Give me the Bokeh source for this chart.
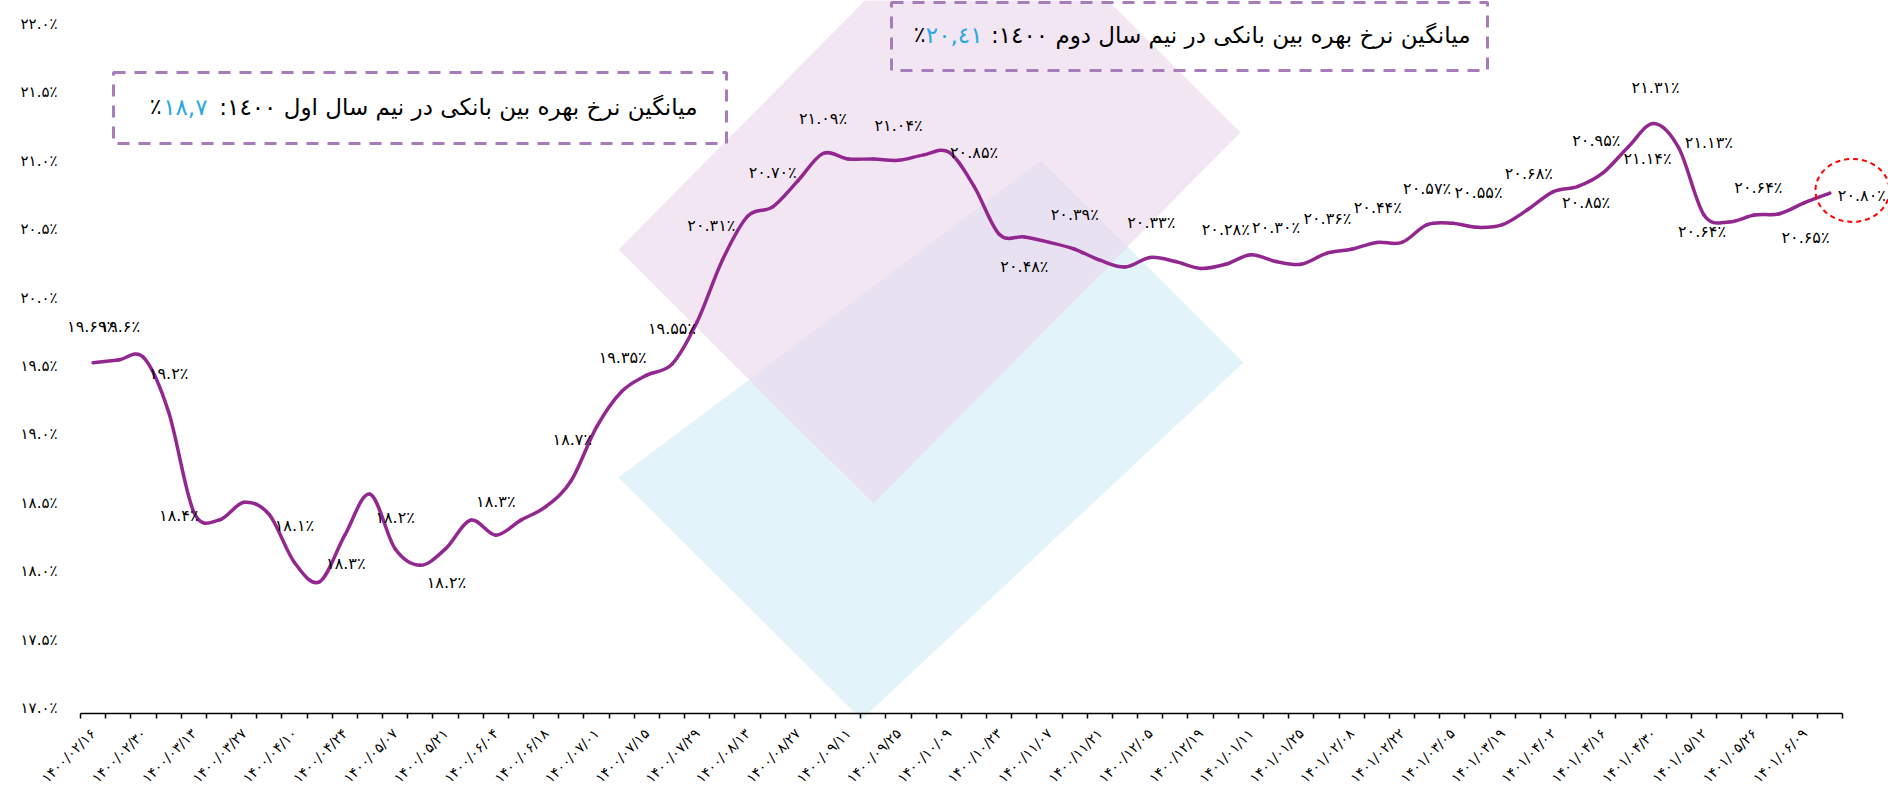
import math
from bokeh.plotting import figure
from bokeh.models import FixedTicker, Range1d
from bokeh.core.properties import value
from bokeh.embed import file_html
from bokeh.resources import INLINE

# ---------------- data ----------------
dates = [
    "۱۴۰۰/۰۲/۱۶", "۱۴۰۰/۰۲/۲۳", "۱۴۰۰/۰۲/۳۰", "۱۴۰۰/۰۳/۰۶", "۱۴۰۰/۰۳/۱۳",
    "۱۴۰۰/۰۳/۲۰", "۱۴۰۰/۰۳/۲۷", "۱۴۰۰/۰۴/۰۳", "۱۴۰۰/۰۴/۱۰", "۱۴۰۰/۰۴/۱۷",
    "۱۴۰۰/۰۴/۲۴", "۱۴۰۰/۰۴/۳۱", "۱۴۰۰/۰۵/۰۷", "۱۴۰۰/۰۵/۱۴", "۱۴۰۰/۰۵/۲۱",
    "۱۴۰۰/۰۵/۲۸", "۱۴۰۰/۰۶/۰۴", "۱۴۰۰/۰۶/۱۱", "۱۴۰۰/۰۶/۱۸", "۱۴۰۰/۰۶/۲۵",
    "۱۴۰۰/۰۷/۰۱", "۱۴۰۰/۰۷/۰۸", "۱۴۰۰/۰۷/۱۵", "۱۴۰۰/۰۷/۲۲", "۱۴۰۰/۰۷/۲۹",
    "۱۴۰۰/۰۸/۰۶", "۱۴۰۰/۰۸/۱۳", "۱۴۰۰/۰۸/۲۰", "۱۴۰۰/۰۸/۲۷", "۱۴۰۰/۰۹/۰۴",
    "۱۴۰۰/۰۹/۱۱", "۱۴۰۰/۰۹/۱۸", "۱۴۰۰/۰۹/۲۵", "۱۴۰۰/۱۰/۰۲", "۱۴۰۰/۱۰/۰۹",
    "۱۴۰۰/۱۰/۱۶", "۱۴۰۰/۱۰/۲۳", "۱۴۰۰/۱۰/۳۰", "۱۴۰۰/۱۱/۰۷", "۱۴۰۰/۱۱/۱۴",
    "۱۴۰۰/۱۱/۲۱", "۱۴۰۰/۱۱/۲۸", "۱۴۰۰/۱۲/۰۵", "۱۴۰۰/۱۲/۱۲", "۱۴۰۰/۱۲/۱۹",
    "۱۴۰۰/۱۲/۲۶", "۱۴۰۱/۰۱/۱۱", "۱۴۰۱/۰۱/۱۸", "۱۴۰۱/۰۱/۲۵", "۱۴۰۱/۰۲/۰۱",
    "۱۴۰۱/۰۲/۰۸", "۱۴۰۱/۰۲/۱۵", "۱۴۰۱/۰۲/۲۲", "۱۴۰۱/۰۲/۲۹", "۱۴۰۱/۰۳/۰۵",
    "۱۴۰۱/۰۳/۱۲", "۱۴۰۱/۰۳/۱۹", "۱۴۰۱/۰۳/۲۶", "۱۴۰۱/۰۴/۰۲", "۱۴۰۱/۰۴/۰۹",
    "۱۴۰۱/۰۴/۱۶", "۱۴۰۱/۰۴/۲۳", "۱۴۰۱/۰۴/۳۰", "۱۴۰۱/۰۵/۰۶", "۱۴۰۱/۰۵/۱۲",
    "۱۴۰۱/۰۵/۱۹", "۱۴۰۱/۰۵/۲۶", "۱۴۰۱/۰۶/۰۲", "۱۴۰۱/۰۶/۰۹", "۱۴۰۱/۰۶/۱۶",
]

rates = [
    19.56, 19.58, 19.60, 19.20, 18.47, 18.41, 18.54, 18.45, 18.10, 17.96,
    18.30, 18.60, 18.20, 18.08, 18.20, 18.41, 18.30, 18.41, 18.51, 18.70,
    19.09, 19.35, 19.47, 19.55, 19.86, 20.31, 20.63, 20.70, 20.89, 21.09,
    21.05, 21.05, 21.04, 21.08, 21.10, 20.85, 20.50, 20.48, 20.44, 20.39,
    20.31, 20.26, 20.33, 20.30, 20.25, 20.28, 20.35, 20.30, 20.28, 20.36,
    20.39, 20.44, 20.44, 20.57, 20.58, 20.55, 20.57, 20.68, 20.81, 20.85,
    20.95, 21.14, 21.31, 21.13, 20.64, 20.59, 20.64, 20.65, 20.73, 20.80,
]

label_idx = [0, 1, 3, 4, 8, 10, 12, 14, 16, 19, 21, 23, 25, 27, 29, 32, 35, 37,
             39, 42, 45, 47, 49, 51, 53, 55, 57, 59, 60, 61, 62, 63, 64, 66, 67, 69]
label_text = ["۱۹.۶۹٪", "۱۹.۶٪", "۱۹.۲٪", "۱۸.۴٪", "۱۸.۱٪", "۱۸.۳٪", "۱۸.۲٪",
              "۱۸.۲٪", "۱۸.۳٪", "۱۸.۷٪", "۱۹.۳۵٪", "۱۹.۵۵٪", "۲۰.۳۱٪", "۲۰.۷۰٪",
              "۲۱.۰۹٪", "۲۱.۰۴٪", "۲۰.۸۵٪", "۲۰.۴۸٪", "۲۰.۳۹٪", "۲۰.۳۳٪", "۲۰.۲۸٪",
              "۲۰.۳۰٪", "۲۰.۳۶٪", "۲۰.۴۴٪", "۲۰.۵۷٪", "۲۰.۵۵٪", "۲۰.۶۸٪", "۲۰.۸۵٪",
              "۲۰.۹۵٪", "۲۱.۱۴٪", "۲۱.۳۱٪", "۲۱.۱۳٪", "۲۰.۶۴٪", "۲۰.۶۴٪", "۲۰.۶۵٪",
              "۲۰.۸۰٪"]

y_tick_values = [17.0, 17.5, 18.0, 18.5, 19.0, 19.5, 20.0, 20.5, 21.0, 21.5, 22.0]
y_tick_labels = ["۱۷.۰٪", "۱۷.۵٪", "۱۸.۰٪", "۱۸.۵٪", "۱۹.۰٪", "۱۹.۵٪",
                 "۲۰.۰٪", "۲۰.۵٪", "۲۱.۰٪", "۲۱.۵٪", "۲۲.۰٪"]

half1_title = "میانگین نرخ بهره بین بانکی در نیم سال اول ١٤٠٠:"
half1_value = "١٨,٧"
half2_title = "میانگین نرخ بهره بین بانکی در نیم سال دوم ١٤٠٠:"
half2_value = "٢٠,٤١"

# ---------------- layout / style (pixels) ----------------
label_dx = [-2, 2, 0, -15, 0, 1, 0, 1, 0, 1, 1, 0, -11, 0, 0, 0, 0, 0,
            0, 1, 0, 0, 1, 1, 0, 1, 1, 8, -7, 19, 2, 30, -2, 4, 26, 32]
label_up = [36, 34, 39, -4, 37, -28, 31, -34, 34, 41, 34, 36, 35, 34, 35, 35, 34, -30,
            35, 35, 35, 34, 35, 35, 36, 35, 36, -16, 32, -12, 36, 6, -16, 28, -24, -2]

FONT = "DejaVu Sans"
LINE_COLOR = "#92278F"
BOX_COLOR = "#A67DBA"
BLUE = "#29A9E1"

W, H = 1888, 785
PX0, PDX = 92.6, 25.17      # screen x of category 0, px per category
PY17, PDY = 712.5, 136.8    # screen y of 17 %, px per 1 %


def sx(px):
    return (px - PX0) / PDX


def sy(py):
    return 17 + (PY17 - py) / PDY


p = figure(width=W, height=H,
           x_range=Range1d(sx(0), sx(W)), y_range=Range1d(sy(H), sy(0)),
           output_backend="svg", toolbar_location=None, min_border=0)
p.outline_line_color = None
p.grid.visible = False
p.background_fill_color = "white"
p.border_fill_color = "white"

# watermark logo (decoration)
wm_pink = [(618, 249), (985, -122), (1240, 132), (873, 503)]
wm_blue = [(618, 477), (1041, 160), (1243, 362), (861, 719)]
p.patches(xs=[[sx(a) for a, b in wm_blue]], ys=[[sy(b) for a, b in wm_blue]],
          fill_color="#E2F3FA", line_color=None)
p.patches(xs=[[sx(a) for a, b in wm_pink]], ys=[[sy(b) for a, b in wm_pink]],
          fill_color="#EBD5EB", fill_alpha=0.6, line_color=None)

# smoothed line (Catmull-Rom style Bezier segments, like Excel's smoothing)
n = len(rates)
x0, y0, x1, y1, cx0, cy0, cx1, cy1 = [], [], [], [], [], [], [], []
for i in range(n - 1):
    im1 = max(i - 1, 0)
    ip2 = min(i + 2, n - 1)
    x0.append(i); y0.append(rates[i])
    x1.append(i + 1); y1.append(rates[i + 1])
    cx0.append(i + (i + 1 - im1) / 6.0)
    cy0.append(rates[i] + (rates[i + 1] - rates[im1]) / 6.0)
    cx1.append(i + 1 - (ip2 - i) / 6.0)
    cy1.append(rates[i + 1] - (rates[ip2] - rates[i]) / 6.0)
p.bezier(x0=x0, y0=y0, x1=x1, y1=y1, cx0=cx0, cy0=cy0, cx1=cx1, cy1=cy1,
         line_color=LINE_COLOR, line_width=3.5, line_cap="round")

# data labels
p.text(x=label_idx, y=[rates[i] for i in label_idx], text=label_text,
       x_offset=label_dx, y_offset=[-u for u in label_up],
       text_align="center", text_baseline="middle",
       text_font=value(FONT), text_font_size="16px", text_color="black")

# highlight last value
p.ellipse(x=[n - 1 + 0.9], y=[rates[-1] + 0.02], width=[74], height=[63],
          width_units="screen", height_units="screen",
          fill_color=None, line_color="#FF0000", line_width=2, line_dash="5 4")

# annotation boxes
p.quad(left=[sx(113), sx(891)], right=[sx(726), sx(1487)],
       top=[sy(72), sy(2)], bottom=[sy(143), sy(70)],
       fill_color=None, line_color=BOX_COLOR, line_width=3, line_dash="12 9")
RLE, PDF = "\u202b", "\u202c"
p.text(x=[sx(697), sx(1470)], y=[sy(106), sy(34)],
       text=[RLE + half1_title + PDF, RLE + half2_title + PDF],
       text_align="right", text_baseline="middle",
       text_font=value(FONT), text_font_size="23px", text_color="black")
p.text(x=[sx(207), sx(982)], y=[sy(106), sy(34)], text=[half1_value, half2_value],
       text_align="right", text_baseline="middle",
       text_font=value(FONT), text_font_size="23px", text_color=BLUE)
p.text(x=[sx(161), sx(925)], y=[sy(106), sy(34)], text=["٪", "٪"],
       text_align="right", text_baseline="middle",
       text_font=value(FONT), text_font_size="22px", text_color="black")

# x axis
xa = p.xaxis[0]
xa.fixed_location = 17.0
xa.bounds = (-0.5, n - 0.5)
xa.ticker = FixedTicker(ticks=list(range(0, n, 2)),
                        minor_ticks=[i - 0.5 for i in range(n + 1)])
xa.major_label_overrides = {i: dates[i] for i in range(0, n, 2)}
xa.major_label_orientation = math.pi / 4
xa.major_tick_in = 0
xa.major_tick_out = 0
xa.minor_tick_in = 0
xa.minor_tick_out = 5
xa.minor_tick_line_color = "black"
xa.minor_tick_line_width = 1.5
xa.axis_line_color = "black"
xa.axis_line_width = 1.5
xa.major_label_standoff = 13
xa.major_label_text_font = FONT
xa.major_label_text_font_size = "14px"
xa.major_label_text_color = "black"

# y axis: no line/ticks; its value labels sit slightly above each level
p.yaxis.visible = False
p.text(x=[-0.5] * len(y_tick_values), y=y_tick_values, text=y_tick_labels,
       x_offset=-23, y_offset=-5, text_align="right", text_baseline="middle",
       text_font=value(FONT), text_font_size="15px", text_color="black")

open("out.html", "w").write(file_html(p, INLINE))
